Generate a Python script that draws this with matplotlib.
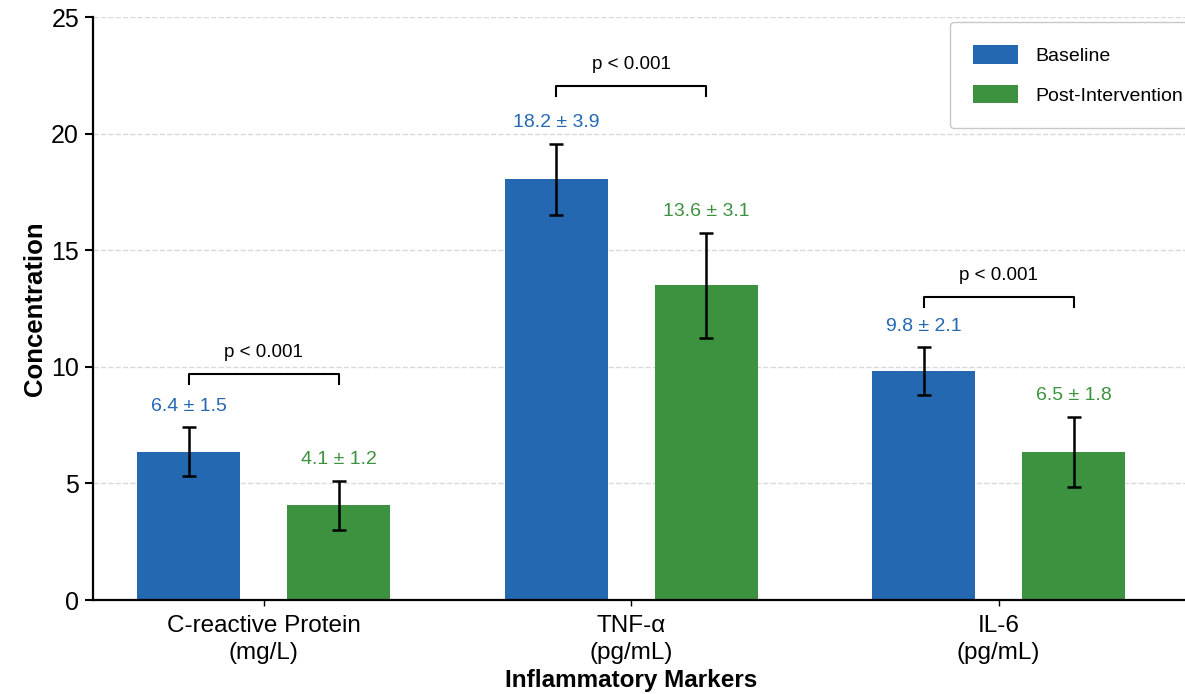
import numpy as np
import matplotlib
matplotlib.use('Agg')
import matplotlib.pyplot as plt

plt.rcParams['font.family'] = ['Liberation Sans', 'DejaVu Sans']

# data
markers = ['C-reactive Protein\n(mg/L)', 'TNF-α\n(pg/mL)', 'IL-6\n(pg/mL)']
baseline_mean = [6.35, 18.05, 9.8]
baseline_err = [1.05, 1.52, 1.03]
post_mean = [4.07, 13.5, 6.35]
post_err = [1.05, 2.25, 1.5]
baseline_labels = ['6.4 ± 1.5', '18.2 ± 3.9', '9.8 ± 2.1']
post_labels = ['4.1 ± 1.2', '13.6 ± 3.1', '6.5 ± 1.8']
p_labels = ['p < 0.001', 'p < 0.001', 'p < 0.001']
bracket_y = [9.7, 22.05, 13.0]

blue = '#2468b2'
green = '#3d923f'

fig = plt.figure(figsize=(11.85, 6.94), dpi=100)
ax = fig.add_axes([93/1185, 94/694, 1126/1185, 583/694])

x = np.arange(len(markers))
off = 0.204
w = 0.28
err_kw = dict(ecolor='black', elinewidth=1.8, capsize=5, capthick=1.8)
b1 = ax.bar(x - off, baseline_mean, w, color=blue, yerr=baseline_err,
            error_kw=err_kw, label='Baseline', zorder=2)
b2 = ax.bar(x + off, post_mean, w, color=green, yerr=post_err,
            error_kw=err_kw, label='Post-Intervention', zorder=2)

for i in range(len(markers)):
    ax.text(x[i] - off, baseline_mean[i] + baseline_err[i] + 0.9, baseline_labels[i],
            ha='center', va='center', color=blue, fontsize=14)
    ax.text(x[i] + off, post_mean[i] + post_err[i] + 0.9, post_labels[i],
            ha='center', va='center', color=green, fontsize=14)
    y = bracket_y[i]
    ax.plot([x[i] - off, x[i] - off, x[i] + off, x[i] + off],
            [y - 0.42, y, y, y - 0.42], color='black', lw=1.5, zorder=3)
    ax.text(x[i], y + 0.92, p_labels[i], ha='center', va='center',
            color='black', fontsize=13.5)

ax.set_xlim(-0.465, 2.6)
ax.set_ylim(0, 25)
ax.set_yticks([0, 5, 10, 15, 20, 25])
ax.set_xticks(x)
ax.set_xticklabels(markers, fontsize=17.5, linespacing=1.3)
ax.tick_params(axis='y', labelsize=18, width=1.5, length=6, pad=4)
ax.tick_params(axis='x', width=1, length=4, pad=7)
ax.set_xlabel('Inflammatory Markers', fontsize=17.5, fontweight='bold')
ax.xaxis.set_label_coords((1 + 0.465) / 3.065, -0.119)
ax.set_ylabel('Concentration', fontsize=18.5, fontweight='bold', labelpad=3)

ax.yaxis.grid(True, linestyle='--', color='#d9d9d9', linewidth=1, zorder=0)
ax.set_axisbelow(True)
for s in ['top', 'right']:
    ax.spines[s].set_visible(False)
for s in ['left', 'bottom']:
    ax.spines[s].set_linewidth(1.6)

fig.legend(handles=[b1, b2], loc='upper left', bbox_to_anchor=(950/1185, 1 - 22/694),
           fontsize=14, frameon=True, fancybox=True, edgecolor='#bbbbbb',
           handlelength=2.3, handleheight=1.1, labelspacing=1.0,
           borderpad=1.2, handletextpad=0.9, borderaxespad=0)

fig.savefig('out.png', dpi=100)
